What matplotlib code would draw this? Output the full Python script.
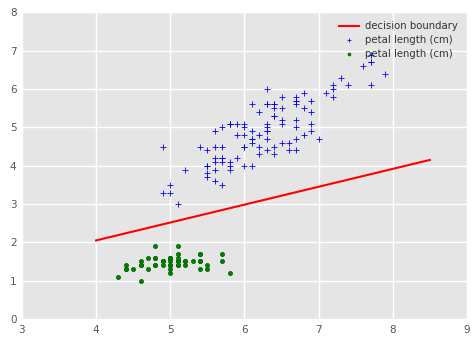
import numpy as np
import matplotlib
matplotlib.use("Agg")
import matplotlib.pyplot as plt

# iris: sepal length vs petal length
# setosa (green dots)
setosa_sepal = [5.1, 4.9, 4.7, 4.6, 5.0, 5.4, 4.6, 5.0, 4.4, 4.9,
                5.4, 4.8, 4.8, 4.3, 5.8, 5.7, 5.4, 5.1, 5.7, 5.1,
                5.4, 5.1, 4.6, 5.1, 4.8, 5.0, 5.0, 5.2, 5.2, 4.7,
                4.8, 5.4, 5.2, 5.5, 4.9, 5.0, 5.5, 4.9, 4.4, 5.1,
                5.0, 4.5, 4.4, 5.0, 5.1, 4.8, 5.1, 4.6, 5.3, 5.0]
setosa_petal = [1.4, 1.4, 1.3, 1.5, 1.4, 1.7, 1.4, 1.5, 1.4, 1.5,
                1.5, 1.6, 1.4, 1.1, 1.2, 1.5, 1.3, 1.4, 1.7, 1.5,
                1.7, 1.5, 1.0, 1.7, 1.9, 1.6, 1.6, 1.5, 1.4, 1.6,
                1.6, 1.5, 1.5, 1.4, 1.5, 1.2, 1.3, 1.5, 1.3, 1.5,
                1.3, 1.3, 1.3, 1.6, 1.9, 1.4, 1.6, 1.4, 1.5, 1.4]

# versicolor + virginica (blue crosses)
other_sepal = [7.0, 6.4, 6.9, 5.5, 6.5, 5.7, 6.3, 4.9, 6.6, 5.2,
               5.0, 5.9, 6.0, 6.1, 5.6, 6.7, 5.6, 5.8, 6.2, 5.6,
               5.9, 6.1, 6.3, 6.1, 6.4, 6.6, 6.8, 6.7, 6.0, 5.7,
               5.5, 5.5, 5.8, 6.0, 5.4, 6.0, 6.7, 6.3, 5.6, 5.5,
               5.5, 6.1, 5.8, 5.0, 5.6, 5.7, 5.7, 6.2, 5.1, 5.7,
               6.3, 5.8, 7.1, 6.3, 6.5, 7.6, 4.9, 7.3, 6.7, 7.2,
               6.5, 6.4, 6.8, 5.7, 5.8, 6.4, 6.5, 7.7, 7.7, 6.0,
               6.9, 5.6, 7.7, 6.3, 6.7, 7.2, 6.2, 6.1, 6.4, 7.2,
               7.4, 7.9, 6.4, 6.3, 6.1, 7.7, 6.3, 6.4, 6.0, 6.9,
               6.7, 6.9, 5.8, 6.8, 6.7, 6.7, 6.3, 6.5, 6.2, 5.9]
other_petal = [4.7, 4.5, 4.9, 4.0, 4.6, 4.5, 4.7, 3.3, 4.6, 3.9,
               3.5, 4.2, 4.0, 4.7, 3.6, 4.4, 4.5, 4.1, 4.5, 3.9,
               4.8, 4.0, 4.9, 4.7, 4.3, 4.4, 4.8, 5.0, 4.5, 3.5,
               3.8, 3.7, 3.9, 5.1, 4.5, 4.5, 4.7, 4.4, 4.1, 4.0,
               4.4, 4.6, 4.0, 3.3, 4.2, 4.2, 4.2, 4.3, 3.0, 4.1,
               6.0, 5.1, 5.9, 5.6, 5.8, 6.6, 4.5, 6.3, 5.8, 6.1,
               5.1, 5.3, 5.5, 5.0, 5.1, 5.3, 5.5, 6.7, 6.9, 5.0,
               5.7, 4.9, 6.7, 4.9, 5.7, 6.0, 4.8, 4.9, 5.6, 5.8,
               6.1, 6.4, 5.6, 5.1, 5.6, 6.1, 5.6, 5.5, 4.8, 5.4,
               5.6, 5.1, 5.1, 5.9, 5.7, 5.2, 5.0, 5.2, 5.4, 5.1]

# decision boundary end points
boundary_x = [4.0, 8.5]
boundary_y = [2.05, 4.15]

fig = plt.figure(figsize=(4.77, 3.43), dpi=100)
ax = fig.add_axes([0.046, 0.070, 0.933, 0.894])
ax.set_facecolor("#E5E5E5")
for s in ax.spines.values():
    s.set_visible(False)
ax.grid(True, color="white", linewidth=1.0)
ax.set_axisbelow(True)
ax.tick_params(length=0, labelsize=7.5, colors="#555555", pad=4)

ax.plot(boundary_x, boundary_y, color="red", linewidth=1.5, label="decision boundary")
ax.scatter(other_sepal, other_petal, marker="+", color="blue", s=14,
           linewidths=0.6, label="petal length (cm)")
ax.scatter(setosa_sepal, setosa_petal, marker="o", facecolor="green",
           edgecolor="#006400", s=9, linewidths=0.5, label="petal length (cm)")

ax.set_xlim(3, 9)
ax.set_ylim(0, 8)
ax.set_xticks(range(3, 10))
ax.set_yticks(range(0, 9))

leg = ax.legend(loc="upper right", frameon=False, fontsize=7.3,
                scatterpoints=1, markerscale=0.7, handlelength=2.0,
                handletextpad=0.6, borderaxespad=0.5, labelspacing=0.35)
for t in leg.get_texts():
    t.set_color("#333333")

fig.savefig("out.png", dpi=100)
